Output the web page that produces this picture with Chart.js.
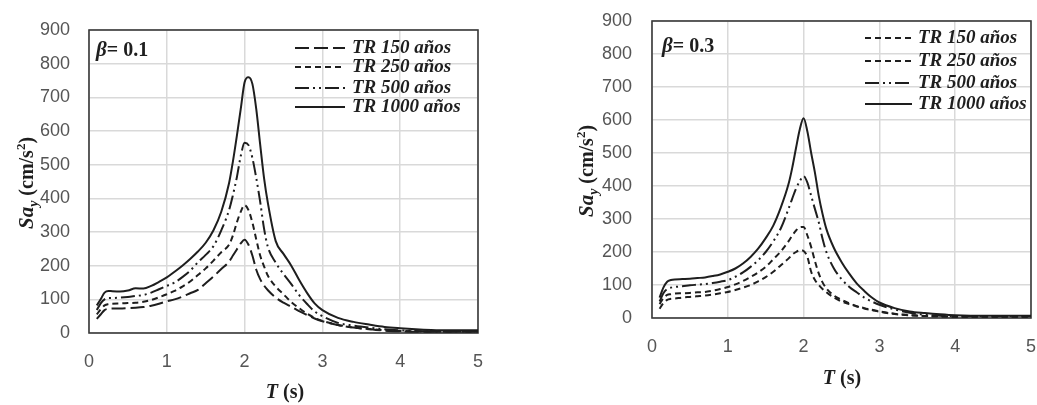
<!DOCTYPE html>
<html>
<head>
<meta charset="utf-8">
<script src="https://cdn.jsdelivr.net/npm/chart.js@4.4.1/dist/chart.umd.min.js"></script>
<style>
body { margin: 0; background: #fff; }
#wrap { position: relative; width: 1037px; height: 405px; overflow: hidden; }
canvas { position: absolute; top: 0; }
</style>
</head>
<body>
<div id="wrap">
  <canvas id="chartB1" width="520" height="405" style="left:0"></canvas>
  <canvas id="chartB3" width="517" height="405" style="left:520px"></canvas>
</div>
<script>
// periodos T (s)
const periods = [0.1, 0.15, 0.2, 0.25, 0.3, 0.4, 0.5, 0.6, 0.7, 0.8, 0.9,
  1.0, 1.1, 1.2, 1.3, 1.4, 1.5, 1.6, 1.7, 1.8,
  1.85, 1.9, 1.95, 2.0, 2.05, 2.1, 2.15, 2.2, 2.25, 2.3,
  2.4, 2.5, 2.6, 2.7, 2.8, 2.9, 3.0,
  3.2, 3.4, 3.6, 3.8, 4.0, 4.2, 4.4, 4.6, 4.8, 5.0];

const seriesLabels = ['TR 150 años', 'TR 250 años', 'TR 500 años', 'TR 1000 años'];

// beta = 0.1
const b1_tr150  = [42, 55, 68, 72, 73, 73, 74, 75, 77, 81, 87,
  94, 100, 108, 118, 128, 148, 168, 190, 212,
  230, 248, 266, 277, 262, 230, 188, 160, 141, 127,
  105, 90, 78, 65, 54, 43, 35,
  24, 16, 11, 7, 5, 4, 4, 4, 4, 4];
const b1_tr250  = [55, 70, 82, 86, 87, 88, 89, 90, 93, 98, 106,
  115, 125, 138, 153, 172, 192, 215, 240, 262,
  290, 328, 360, 380, 365, 328, 278, 230, 198, 170,
  138, 115, 92, 74, 58, 45, 36,
  24, 16, 12, 8, 6, 5, 4, 4, 4, 4];
const b1_tr500  = [68, 88, 100, 104, 104, 105, 107, 110, 113, 120, 130,
  140, 150, 166, 185, 210, 232, 258, 305, 365,
  410, 462, 525, 565, 558, 520, 460, 390, 310, 255,
  209, 175, 145, 113, 87, 64, 50,
  30, 22, 16, 11, 8, 6, 5, 5, 5, 5];
const b1_tr1000 = [82, 100, 120, 125, 124, 123, 126, 133, 132, 140, 152,
  165, 182, 200, 220, 242, 268, 305, 360, 445,
  510, 585, 665, 745, 760, 740, 665, 560, 460, 385,
  273, 235, 200, 158, 120, 88, 68,
  45, 33, 25, 18, 14, 11, 9, 8, 8, 8];

// beta = 0.3
const b3_tr150  = [28, 45, 55, 58, 59, 62, 64, 66, 68, 71, 75,
  79, 85, 92, 100, 111, 124, 140, 160, 180,
  192, 200, 206, 203, 185, 140, 115, 100, 88, 78,
  62, 50, 42, 35, 29, 24, 19,
  12, 8, 6, 5, 4, 4, 4, 4, 4, 4];
const b3_tr250  = [42, 60, 70, 72, 74, 75, 76, 78, 79, 83, 88,
  94, 102, 112, 124, 138, 155, 178, 202, 232,
  250, 265, 275, 276, 250, 215, 172, 135, 108, 90,
  68, 55, 45, 36, 30, 25, 20,
  13, 9, 6, 5, 4, 4, 4, 4, 4, 4];
const b3_tr500  = [50, 75, 88, 92, 94, 96, 99, 101, 103, 106, 110,
  115, 125, 138, 155, 175, 200, 232, 272, 330,
  362, 392, 415, 430, 410, 370, 330, 290, 240, 200,
  150, 118, 95, 78, 62, 50, 40,
  26, 16, 10, 7, 5, 5, 5, 5, 5, 5];
const b3_tr1000 = [62, 92, 110, 115, 117, 118, 119, 121, 123, 127, 132,
  140, 150, 165, 185, 210, 242, 280, 335, 405,
  455, 515, 572, 605, 565, 500, 440, 370, 315, 270,
  212, 170, 135, 105, 82, 62, 47,
  30, 20, 15, 11, 8, 7, 7, 7, 7, 7];

const xTicks = [0, 1, 2, 3, 4, 5];
const yTicks = [0, 100, 200, 300, 400, 500, 600, 700, 800, 900];

const INK = '#1e1e1e';
const SERIF = '"Liberation Serif", "Times New Roman", serif';
const TICKFONT = { family: '"Liberation Sans", Arial, sans-serif', size: 18 };

function toPoints(vals) {
  return periods.map((t, i) => ({ x: t, y: vals[i] }));
}

// draws a run of text pieces with their own font and vertical shift
function drawRich(ctx, parts, x, y, centered) {
  let w = 0;
  parts.forEach(p => { ctx.font = p.font; w += ctx.measureText(p.text).width; });
  let cx = centered ? x - w / 2 : x;
  parts.forEach(p => {
    ctx.font = p.font;
    ctx.fillText(p.text, cx, y + (p.dy || 0));
    cx += ctx.measureText(p.text).width;
  });
}

function makeDecor(cfg) {
  return {
    id: 'decor',
    beforeDatasetsDraw(chart) {
      const { ctx, chartArea: a } = chart;
      ctx.save();
      ctx.strokeStyle = '#3a3a3a';
      ctx.lineWidth = 1.6;
      ctx.strokeRect(a.left, a.top, a.right - a.left, a.bottom - a.top);
      ctx.restore();
    },
    afterDraw(chart) {
      const ctx = chart.ctx;
      ctx.save();
      ctx.fillStyle = INK;
      ctx.textBaseline = 'alphabetic';

      // beta
      drawRich(ctx, [
        { text: 'β', font: 'bold italic 21px ' + SERIF },
        { text: '= ' + cfg.beta, font: 'bold 20px ' + SERIF }
      ], cfg.betaX, cfg.betaY, false);

      // legend
      chart.data.datasets.forEach((ds, i) => {
        const y = cfg.legY[i];
        ctx.strokeStyle = INK;
        ctx.lineWidth = 2;
        ctx.setLineDash(ds.borderDash || []);
        ctx.beginPath();
        ctx.moveTo(cfg.legX1, y);
        ctx.lineTo(cfg.legX2, y);
        ctx.stroke();
        ctx.setLineDash([]);
        ctx.font = 'bold italic 19px ' + SERIF;
        ctx.textBaseline = 'middle';
        ctx.fillText(ds.label, cfg.legTx, y);
        ctx.textBaseline = 'alphabetic';
      });

      // x title
      drawRich(ctx, [
        { text: 'T', font: 'bold italic 20px ' + SERIF },
        { text: ' (s)', font: 'bold 20px ' + SERIF }
      ], cfg.xtX, cfg.xtY, true);

      // y title
      ctx.translate(cfg.ytX, cfg.ytY);
      ctx.rotate(-Math.PI / 2);
      drawRich(ctx, [
        { text: 'Sa', font: 'bold italic 21px ' + SERIF },
        { text: 'y', font: 'bold italic 14px ' + SERIF, dy: 5 },
        { text: ' (cm/s', font: 'bold 20px ' + SERIF },
        { text: '2', font: 'bold 13px ' + SERIF, dy: -8 },
        { text: ')', font: 'bold 20px ' + SERIF }
      ], 0, 0, true);
      ctx.restore();
    }
  };
}

function makeChart(id, series, dashes, lay, decor) {
  const datasets = series.map((vals, i) => ({
    label: seriesLabels[i],
    data: toPoints(vals),
    borderColor: INK,
    borderWidth: 2,
    borderDash: dashes[i],
    pointRadius: 0,
    fill: false,
    cubicInterpolationMode: 'monotone'
  }));

  new Chart(document.getElementById(id), {
    type: 'line',
    data: { datasets: datasets },
    options: {
      responsive: false,
      animation: false,
      layout: { padding: { left: 0, right: lay.right, top: lay.top, bottom: 0 } },
      plugins: { legend: { display: false }, tooltip: { enabled: false } },
      scales: {
        x: {
          type: 'linear',
          min: 0, max: 5,
          afterBuildTicks: s => { s.ticks = xTicks.map(v => ({ value: v })); },
          afterFit: s => { s.height = lay.xH; },
          ticks: { color: '#555', padding: 0, font: TICKFONT },
          // invisible tick marks give the label gap without inflating layout padding
          grid: { color: '#d9d9d9', lineWidth: 1.5, drawTicks: true, tickLength: 18, tickColor: 'rgba(0,0,0,0)' },
          border: { display: false }
        },
        y: {
          min: 0, max: 900,
          afterBuildTicks: s => { s.ticks = yTicks.map(v => ({ value: v })); },
          afterFit: s => { s.width = lay.yW; },
          ticks: { color: '#555', padding: 0, font: TICKFONT },
          grid: { color: '#d9d9d9', lineWidth: 1.5, drawTicks: true, tickLength: lay.yPad, tickColor: 'rgba(0,0,0,0)' },
          border: { display: false }
        }
      }
    },
    plugins: [makeDecor(decor)]
  });
}

makeChart('chartB1',
  [b1_tr150, b1_tr250, b1_tr500, b1_tr1000],
  [[14, 5], [6, 4], [14, 4, 2, 4, 2, 4], []],
  { right: 42, top: 30, xH: 72, yW: 89, yPad: 19 },
  { beta: '0.1', betaX: 96, betaY: 56,
    legX1: 295, legX2: 345, legTx: 352, legY: [48, 67, 88, 107],
    xtX: 285, xtY: 398, ytX: 33, ytY: 183 });

makeChart('chartB3',
  [b3_tr150, b3_tr250, b3_tr500, b3_tr1000],
  [[6, 4], [6, 4], [14, 4, 2, 4, 2, 4], []],
  { right: 6, top: 21, xH: 87, yW: 132, yPad: 20 },
  { beta: '0.3', betaX: 142, betaY: 52,
    legX1: 345, legX2: 392, legTx: 398, legY: [38, 61, 83, 104],
    xtX: 322, xtY: 384, ytX: 73, ytY: 171 });
</script>
</body>
</html>
